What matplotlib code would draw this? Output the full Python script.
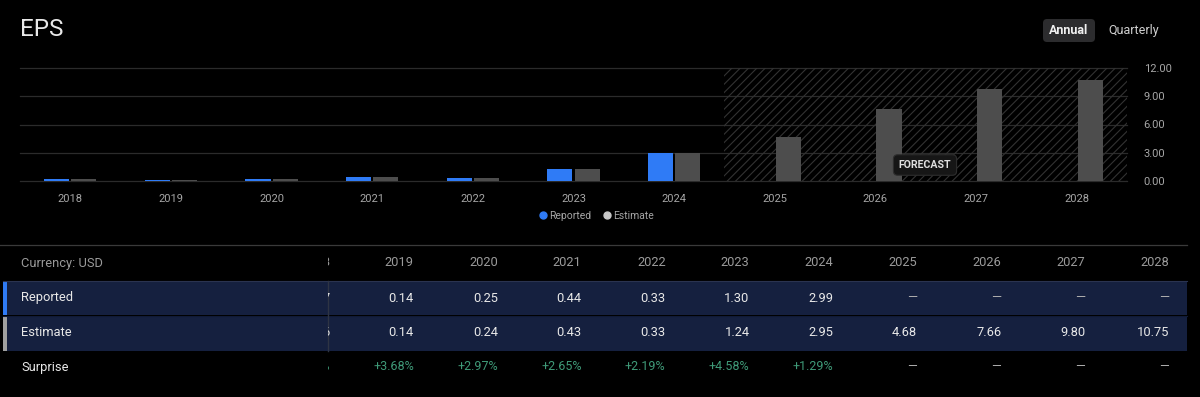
import matplotlib
matplotlib.use("Agg")
import matplotlib.pyplot as plt
from matplotlib.patches import Rectangle, FancyBboxPatch
from matplotlib.lines import Line2D
import numpy as np

plt.rcParams['font.family'] = ['Roboto', 'DejaVu Sans']
plt.rcParams['hatch.linewidth'] = 0.8

# ---------------- data ----------------
years = ['2018', '2019', '2020', '2021', '2022', '2023', '2024', '2025', '2026', '2027', '2028']
reported = [0.17, 0.14, 0.25, 0.44, 0.33, 1.30, 2.99, None, None, None, None]
estimate = [0.16, 0.14, 0.24, 0.43, 0.33, 1.24, 2.95, 4.68, 7.66, 9.80, 10.75]
surprise = ['+6.25%', '+3.68%', '+2.97%', '+2.65%', '+2.19%', '+4.58%', '+1.29%', None, None, None, None]
y_ticks = [0, 3, 6, 9, 12]
first_forecast = 7  # index of 2025

BG = '#000000'
BLUE = '#2f7bf6'
GRAY_BAR = '#4d4d4d'
GRID = '#2b2b2b'
TICK = '#a6a6a6'
WHITE = '#e8e8e8'
BAND = '#15203f'
GREEN = '#3f9a78'

W, H = 1200, 397
fig = plt.figure(figsize=(W / 100, H / 100), dpi=100, facecolor=BG)

def fx(px):
    return px / W

def fy(py):
    return 1 - py / H

# background axes in pixel coords
bg = fig.add_axes([0, 0, 1, 1])
bg.set_xlim(0, W)
bg.set_ylim(H, 0)
bg.axis('off')
bg.set_facecolor(BG)

# title and buttons
bg.text(20, 30, 'EPS', fontsize=17.5, color=WHITE, va='center', ha='left')
bg.add_patch(FancyBboxPatch((1043, 19), 52, 23, boxstyle='round,pad=0,rounding_size=4',
                            facecolor='#2c2c2e', edgecolor='none'))
bg.text(1069, 30.5, 'Annual', fontsize=9, color='#f0f0f0', fontweight='bold', ha='center', va='center')
bg.text(1134, 30.5, 'Quarterly', fontsize=9, color='#d0d0d0', ha='center', va='center')

# ---------------- chart ----------------
x0, x1, ytop, ybot = 20, 1127, 68, 181
ax = fig.add_axes([fx(x0), fy(ybot), fx(x1 - x0), (ybot - ytop) / H])
ax.set_facecolor('none')
n = len(years)
x = np.arange(n)
bw = 0.25
off = 0.135
ax.set_xlim(-0.5, n - 0.5)
ax.set_ylim(0, 12)

for yv in y_ticks:
    ax.axhline(yv, color=GRID, lw=0.9, zorder=0, clip_on=False)

ax.add_patch(Rectangle((first_forecast - 0.5, 0), n - first_forecast, 12, facecolor='none',
                       edgecolor='#333333', hatch='////', lw=0, zorder=0.5))

rx = [xi - off for xi, v in zip(x, reported) if v is not None]
rv = [v for v in reported if v is not None]
ax.bar(rx, rv, width=bw, color=BLUE, zorder=2)
ax.bar(x + off, estimate, width=bw, color=GRAY_BAR, zorder=2)

ax.set_xticks(x)
ax.set_xticklabels(years)
ax.yaxis.tick_right()
ax.set_yticks(y_ticks)
ax.set_yticklabels([f'{v:.2f}' for v in y_ticks])
ax.tick_params(axis='both', length=0, colors=TICK, labelsize=8)
ax.tick_params(axis='x', pad=9)
ax.tick_params(axis='y', pad=12)
for lab in ax.get_yticklabels():
    lab.set_horizontalalignment('left')
for s in ax.spines.values():
    s.set_visible(False)

fig.text(fx(925), fy(165), 'FORECAST', fontsize=7.6, color='#e0e0e0', fontweight='bold',
         ha='center', va='center', zorder=10,
         bbox=dict(boxstyle='round,pad=0.5,rounding_size=0.4', facecolor='#161616', edgecolor='#2e2e2e', lw=0.8))

handles = [Line2D([], [], marker='o', ls='none', color=BLUE, markersize=5),
           Line2D([], [], marker='o', ls='none', color='#c8c8c8', markersize=5)]
fig.legend(handles, ['Reported', 'Estimate'], loc='center', bbox_to_anchor=(fx(596), fy(216)),
           ncol=2, frameon=False, fontsize=7.5, labelcolor=TICK, handletextpad=0.1,
           columnspacing=1.0, handlelength=1.0)

# ---------------- table ----------------
bg.plot([0, 1187], [244.5, 244.5], color='#3a3a3a', lw=0.9)
row_y = {'hdr': 263, 'rep': 298, 'est': 332.5, 'sur': 367}
FS = 9.3
# bands
bg.add_patch(Rectangle((3, 281), 1184, 34, facecolor=BAND, edgecolor='none'))
bg.add_patch(Rectangle((3, 315.5), 1184, 35, facecolor=BAND, edgecolor='none'))
bg.plot([3, 1187], [281.3, 281.3], color='#2a3350', lw=0.8)
bg.plot([3, 1187], [315.5, 315.5], color='#101a36', lw=0.8)
bg.add_patch(Rectangle((3, 281), 4, 34, facecolor=BLUE, edgecolor='none'))
bg.add_patch(Rectangle((3, 315.5), 4, 35, facecolor='#a0a0a0', edgecolor='none'))
bg.plot([327.5, 327.5], [281, 350.5], color='#2e3444', lw=1.0)

bg.text(21, row_y['hdr'], 'Currency: USD', fontsize=FS, color='#9a9a9a', va='center')
bg.text(21, row_y['rep'], 'Reported', fontsize=FS, color=WHITE, va='center')
bg.text(21, row_y['est'], 'Estimate', fontsize=FS, color=WHITE, va='center')
bg.text(21, row_y['sur'], 'Surprise', fontsize=FS, color=WHITE, va='center')

tab = fig.add_axes([fx(328), 0, fx(W - 328), 1])
tab.set_xlim(328, W)
tab.set_ylim(H, 0)
tab.axis('off')
tab.set_facecolor('none')

col_right0 = 330
col_step = 83.9
for i, yr in enumerate(years):
    xr = col_right0 + i * col_step
    tab.text(xr, row_y['hdr'], yr, fontsize=FS, color='#9a9a9a', ha='right', va='center', clip_on=True)
    r = reported[i]
    tab.text(xr, row_y['rep'], f'{r:.2f}' if r is not None else '—', fontsize=FS,
             color=WHITE if r is not None else '#b0b0b0', ha='right', va='center', clip_on=True)
    tab.text(xr, row_y['est'], f'{estimate[i]:.2f}', fontsize=FS, color=WHITE,
             ha='right', va='center', clip_on=True)
    s = surprise[i]
    tab.text(xr, row_y['sur'], s if s is not None else '—', fontsize=FS - 0.3,
             color=GREEN if s is not None else '#b0b0b0', ha='right', va='center', clip_on=True)

fig.savefig('out.png', dpi=100, facecolor=BG)
